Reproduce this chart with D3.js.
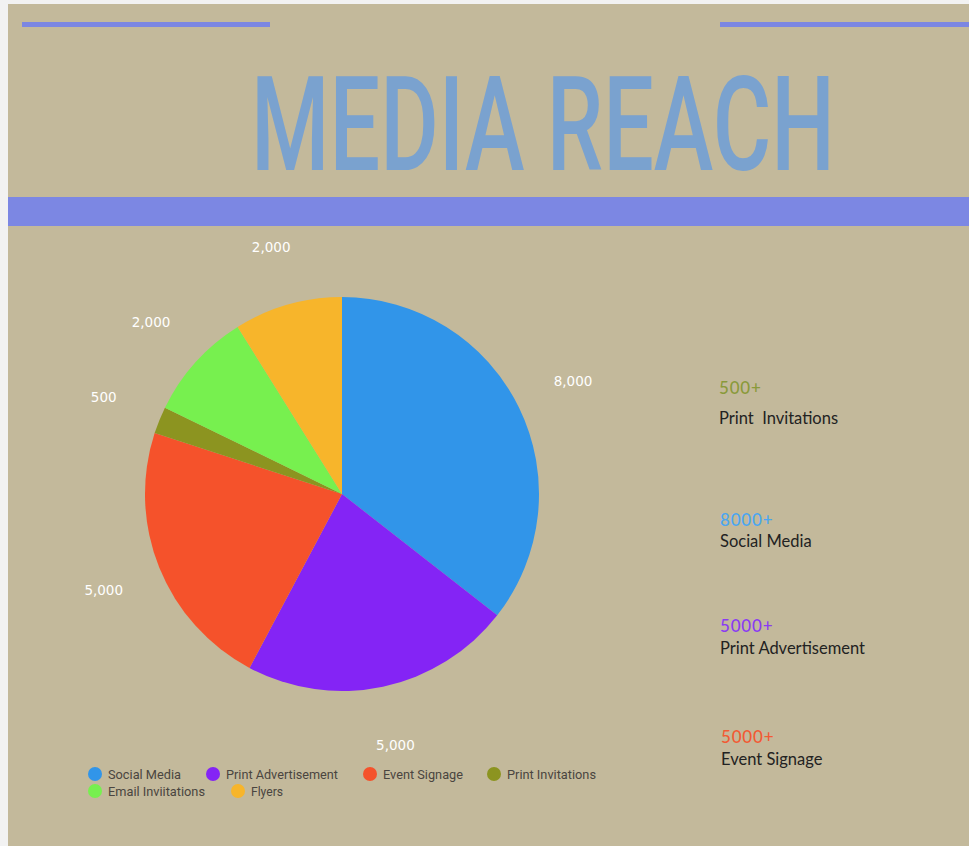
<!DOCTYPE html>
<html>
<head>
<meta charset="utf-8">
<script src="https://cdn.jsdelivr.net/npm/d3@7"></script>
<style>
  html, body { margin: 0; padding: 0; background: #f2f2f2; }
  svg { display: block; }
</style>
</head>
<body>
<svg id="chart" width="969" height="846"></svg>
<script>
const categories = ["Social Media", "Print Advertisement", "Event Signage", "Print Invitations", "Email Inviitations", "Flyers"];
const values = [8000, 5000, 5000, 500, 2000, 2000];
const colors = ["#3195e9", "#8424f5", "#f5522b", "#8c9420", "#77f04f", "#f7b52b"];
const valueLabels = ["8,000", "5,000", "5,000", "500", "2,000", "2,000"];

const sideTitles = ["500+", "8000+", "5000+", "5000+"];
const sideNames = ["Print  Invitations", "Social Media", "Print Advertisement", "Event Signage"];
const sideColors = ["#8a9a3a", "#4aa6f2", "#8a3cf2", "#f25a34"];

const svg = d3.select("#chart");

// background panel
svg.append("rect").attr("x", 8).attr("y", 4).attr("width", 961).attr("height", 842).attr("fill", "#c3b99b");

// decorative lines
svg.append("rect").attr("x", 22).attr("y", 22).attr("width", 248).attr("height", 5).attr("fill", "#7b86e2");
svg.append("rect").attr("x", 720).attr("y", 22).attr("width", 249).attr("height", 5).attr("fill", "#7b86e2");
svg.append("rect").attr("x", 8).attr("y", 197).attr("width", 961).attr("height", 29).attr("fill", "#7c87e3");

// title (condensed horizontally with a scale transform)
const titleG = svg.append("g");
const title = titleG.append("text")
  .attr("x", 0).attr("y", 0)
  .attr("font-family", "Roboto, 'DejaVu Sans'")
  .attr("font-weight", 500)
  .attr("font-size", 131)
  .attr("fill", "#7aa2cf")
  .text("MEDIA REACH");
const natW = title.node().getComputedTextLength();
titleG.attr("transform", `translate(251,170) scale(${584 / natW},1)`);

// pie
const cx = 342, cy = 494, r = 197;
const pie = d3.pie().sort(null).value(d => d.v);
const data = categories.map((c, i) => ({ c, v: values[i], col: colors[i], lab: valueLabels[i] }));
const arcs = pie(data);
const arc = d3.arc().innerRadius(0).outerRadius(r);
const labelArc = d3.arc().innerRadius(257).outerRadius(257);

const g = svg.append("g").attr("transform", `translate(${cx},${cy})`);
g.selectAll("path.slice").data(arcs).enter().append("path")
  .attr("d", arc).attr("fill", d => d.data.col);

g.selectAll("text.lab").data(arcs).enter().append("text")
  .attr("transform", d => `translate(${labelArc.centroid(d)})`)
  .attr("text-anchor", "middle").attr("dy", "0.35em")
  .attr("font-family", "'DejaVu Sans', sans-serif")
  .attr("font-size", 13.5)
  .attr("fill", "#ffffff")
  .text(d => d.data.lab);

// legend
const legendPos = [[95, 774, 73], [213, 774, 112], [370, 774, 80], [494, 774, 89], [95, 791, 97], [238, 791, 32]];
const lg = svg.append("g");
data.forEach((d, i) => {
  const [x, y, w] = legendPos[i];
  lg.append("circle").attr("cx", x).attr("cy", y).attr("r", 7).attr("fill", d.col);
  lg.append("text").attr("x", x + 13).attr("y", y + 4.5)
    .attr("font-family", "Roboto, sans-serif").attr("font-size", 13)
    .attr("textLength", w).attr("lengthAdjust", "spacingAndGlyphs")
    .attr("fill", "#4a4540").text(d.c);
});

// side annotations
const sidePos = [[719, 394, 424], [720, 526, 547], [720, 632, 654], [721, 743, 765]];
sideTitles.forEach((t, i) => {
  const [x, y1, y2] = sidePos[i];
  svg.append("text").attr("x", x).attr("y", y1)
    .attr("font-family", "Lato, sans-serif").attr("font-size", 17).attr("font-weight", 500)
    .attr("letter-spacing", 0.8)
    .attr("fill", sideColors[i]).text(t);
  svg.append("text").attr("x", x).attr("y", y2)
    .attr("font-family", "Lato, sans-serif").attr("font-size", 16.5)
    .attr("fill", "#222222").style("white-space", "pre").text(sideNames[i]);
});
</script>
</body>
</html>
